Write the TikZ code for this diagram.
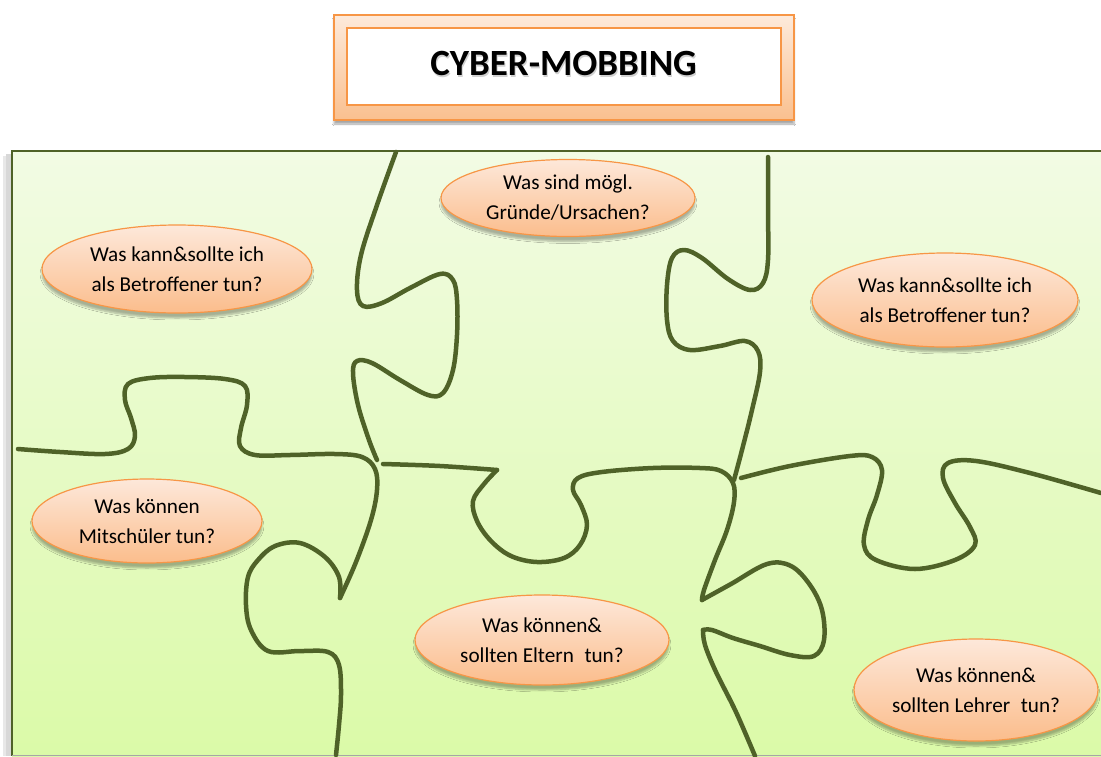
\documentclass[tikz,border=0pt]{standalone}
\usepackage{fontspec}
\setmainfont{Carlito}
\usetikzlibrary{shapes.geometric,shadows.blur}

\definecolor{seamgreen}{HTML}{4F6228}
\definecolor{orng}{HTML}{F79646}
\definecolor{peachtop}{HTML}{FDE8DA}
\definecolor{peachbot}{HTML}{FBBD8C}
\definecolor{frametop}{HTML}{FDEADB}
\definecolor{framebot}{HTML}{FAC08F}
\definecolor{paneltop}{HTML}{F2FBE4}
\definecolor{panelbot}{HTML}{DBFAA8}

\tikzset{
  bubble/.style={ellipse, draw=orng, line width=1.2pt,
    top color=peachtop, bottom color=peachbot, inner sep=0pt,
    align=center, font=\fontsize{21.2}{30}\selectfont,
    blur shadow={shadow xshift=0pt, shadow yshift=-5pt,
      shadow opacity=30, shadow blur steps=6}},
  seam/.style={draw=seamgreen, line width=4.5pt, line cap=round, line join=round},
  frameout/.style={rectangle, draw=orng, line width=1.5pt,
    top color=frametop, bottom color=framebot, inner sep=0pt,
    minimum width=460pt, minimum height=105pt,
    blur shadow={shadow xshift=0pt, shadow yshift=-4pt,
      shadow opacity=35, shadow blur steps=6}},
  framein/.style={rectangle, draw=orng, line width=1.5pt, fill=white,
    inner sep=0pt, minimum width=434pt, minimum height=77pt},
  titlefont/.style={font=\fontsize{37}{42}\selectfont\bfseries},
}

\begin{document}
\begin{tikzpicture}[x=1pt,y=-1pt]
\useasboundingbox (0,0) rectangle (1101,756);
\clip (0,0) rectangle (1101,756);

% page background
\fill[white] (0,0) rectangle (1101,756);

% title frame
\node[frameout] (titleframe) at (564,67.5) {};
\node[framein] (titleinner) at (564,66.5) {};
\node[titlefont, text=black!18] (titleshadow) at (564.5,65.5) {CYBER-MOBBING};
\node[titlefont] (title) at (563.5,63.5) {CYBER-MOBBING};

% puzzle panel with a soft shadow on its left
\fill[black!25, opacity=0.6] (6,154) rectangle (12,756);
\fill[black!15, opacity=0.6] (3,156) rectangle (6,756);
\shade[top color=paneltop, bottom color=panelbot] (12,151) rectangle (1110,756);
\draw[seamgreen, line width=2pt] (1110,151) -- (12,151) -- (12,755.5);
\draw[black!35, line width=1pt] (12,755.5) -- (1110,755.5);

% seam from the top edge down to the left junction
\draw[seam] plot[smooth, tension=0.6] coordinates {
  (396,152) (377,205) (361,255) (357,290) (363,306) (382,303) (410,288)
  (440,274) (453,280) (457,300) (457,335) (453,370) (443,393) (428,395)
  (400,380) (372,363) (357,361) (353,373) (358,405) (369,440) (377,460)};

% seam from the left edge through the lower left piece
\draw[seam] plot[smooth, tension=0.6] coordinates {
  (18,449) (60,452) (105,454) (128,449) (135,436) (131,418) (125,400)
  (128,384) (150,378) (185,377) (225,379) (245,386) (247,405) (241,428)
  (240,446) (255,455) (290,455) (335,454) (362,457) (375,469) (377,490)
  (371,520) (356,562) (340,598)};
\draw[seam] plot[smooth, tension=0.6] coordinates {
  (340,598) (339,577) (325,557) (300,543) (275,546) (258,560) (248,577)
  (246,605) (251,630) (268,651) (300,651) (328,652) (339,665) (341,695)
  (339,725) (336,755)};

% seam from the left junction to the right junction
\draw[seam] plot[smooth, tension=0.6] coordinates {
  (383,464) (440,466) (497,470)};
\draw[seam] plot[smooth, tension=0.6] coordinates {
  (497,470) (484,484) (473,501) (477,521) (491,541) (511,556) (537,562)
  (564,558) (580,545) (587,525) (581,505) (573,490) (578,478) (602,472)
  (653,468) (700,468) (721,471) (733,483) (734,502) (727,530) (715,560)
  (704,590) (702,600)};
\draw[seam] plot[smooth, tension=0.6] coordinates {
  (702,600) (731,584) (767,564) (791,566) (810,585) (822,610) (824,640)
  (814,656) (790,655) (760,646) (733,638) (712,630) (703,630)};
\draw[seam] plot[smooth, tension=0.6] coordinates {
  (703,630) (705,645) (716,672) (736,712) (755,756)};

% seam from the top edge down to the right junction
\draw[seam] plot[smooth, tension=0.6] coordinates {
  (768,157) (768,210) (768,260) (763,283) (750,290) (728,279) (702,258)
  (684,250) (672,258) (667,285) (667,320) (673,341) (690,350) (720,346)
  (745,341) (758,351) (760,372) (752,410) (742,450) (734,480)};

% seam from the right junction to the right edge
\draw[seam] plot[smooth, tension=0.6] coordinates {
  (741,478) (790,466) (850,456) (872,457) (882,470) (877,495) (868,520)
  (864,545) (876,560) (915,569) (955,560) (975,545) (970,527) (955,503)
  (943,478) (948,463) (976,461) (1030,473) (1101,493)};

% question bubbles
\node[bubble, minimum width=270pt, minimum height=88pt] (victimleft) at (177,269)
  {Was kann\&sollte ich\\als Betroffener tun?};
\node[bubble, minimum width=254pt, minimum height=77pt] (reasons) at (568,198)
  {Was sind mögl.\\Gründe/Ursachen?};
\node[bubble, minimum width=266pt, minimum height=94pt] (victimright) at (945,300)
  {Was kann\&sollte ich\\als Betroffener tun?};
\node[bubble, minimum width=230pt, minimum height=84pt] (classmates) at (147,521)
  {Was können\\Mitschüler tun?};
\node[bubble, minimum width=254pt, minimum height=90pt] (parents) at (542,640)
  {Was können\&\\sollten Eltern\hspace{0.5em}tun?};
\node[bubble, minimum width=244pt, minimum height=102pt] (teachers) at (976,690)
  {Was können\&\\sollten Lehrer\hspace{0.5em}tun?};
\end{tikzpicture}
\end{document}
